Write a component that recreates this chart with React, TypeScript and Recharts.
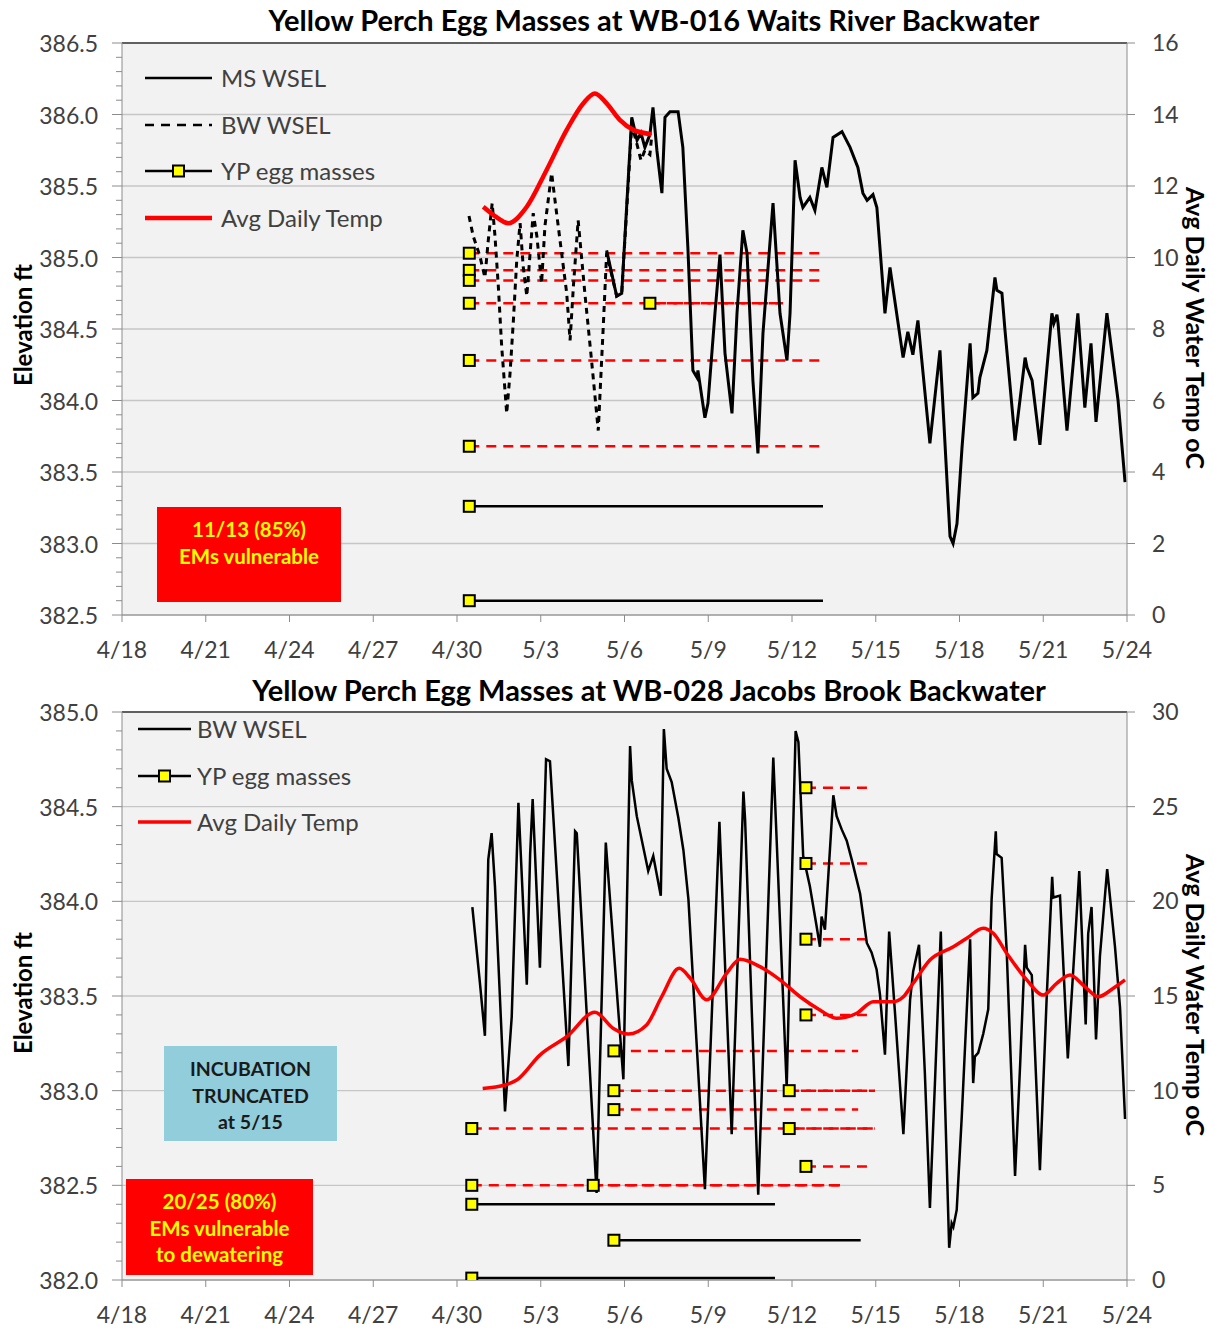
import React from 'react';
import { ComposedChart, Line, Scatter, XAxis, YAxis, CartesianGrid, ReferenceLine } from 'recharts';

const FONT = 'Lato, "Open Sans", sans-serif';
const TICK_COLOR = '#404040';
const AXIS_COLOR = '#8c8c8c';
const GRID_COLOR = '#c6c6c6';

// x values: days after 4/18 (0 = 4/18, 12 = 4/30, 13 = 5/1)
const dateTicks = [0, 3, 6, 9, 12, 15, 18, 21, 24, 27, 30, 33, 36];
const dateLabel = (d: number) => (d <= 12 ? `4/${18 + d}` : `5/${d - 12}`);

// ---------- WB-016 Waits River Backwater ----------
const elevMajor016 = [382.5, 383.0, 383.5, 384.0, 384.5, 385.0, 385.5, 386.0, 386.5];
const elevMinor016 = Array.from({ length: 41 }, (_, i) => Math.round((382.5 + i * 0.1) * 10) / 10);
const tempTicks016 = [0, 2, 4, 6, 8, 10, 12, 14, 16];

const msWsel016: [number, number][] = [
  [17.36, 385.05], [17.72, 384.73], [17.9, 384.75], [18.26, 385.98], [18.45, 385.82], [18.59, 385.87],
  [18.73, 385.77], [18.91, 385.86], [19.02, 386.05], [19.16, 385.75], [19.34, 385.45], [19.45, 385.98],
  [19.63, 386.02], [19.92, 386.02], [20.09, 385.77], [20.27, 385.07], [20.45, 384.21], [20.6, 384.16],
  [20.63, 384.21], [20.88, 383.88], [20.99, 383.98], [21.24, 384.61], [21.42, 385.02], [21.6, 384.33],
  [21.85, 383.91], [22.03, 384.61], [22.24, 385.19], [22.39, 385.03], [22.6, 384.14], [22.78, 383.63],
  [22.96, 384.47], [23.32, 385.38], [23.57, 384.61], [23.82, 384.28], [23.93, 384.61], [24.11, 385.68],
  [24.29, 385.42], [24.39, 385.35], [24.64, 385.42], [24.82, 385.33], [25.07, 385.63], [25.25, 385.49],
  [25.47, 385.84], [25.79, 385.88], [26.08, 385.77], [26.36, 385.63], [26.54, 385.45], [26.69, 385.4],
  [26.9, 385.44], [27.04, 385.35], [27.33, 384.61], [27.51, 384.93], [27.98, 384.3], [28.15, 384.48],
  [28.33, 384.32], [28.51, 384.56], [28.94, 383.7], [29.3, 384.35], [29.66, 383.05], [29.77, 383.0],
  [29.91, 383.14], [30.09, 383.67], [30.38, 384.4], [30.48, 384.02], [30.66, 384.05], [30.73, 384.16],
  [30.98, 384.35], [31.27, 384.86], [31.34, 384.77], [31.52, 384.75], [31.63, 384.49], [31.99, 383.72],
  [32.35, 384.3], [32.42, 384.23], [32.6, 384.14], [32.88, 383.69], [33.31, 384.61], [33.38, 384.54],
  [33.49, 384.6], [33.53, 384.54], [33.85, 383.79], [34.24, 384.61], [34.49, 383.95], [34.71, 384.4],
  [34.89, 383.85], [35.28, 384.61], [35.68, 384.0], [35.93, 383.43],
];

const bwWsel016: [number, number][] = [
  [12.43, 385.29], [12.58, 385.15], [12.82, 385.01], [13.0, 384.86], [13.12, 385.12], [13.26, 385.38],
  [13.36, 385.15], [13.48, 384.8], [13.6, 384.38], [13.78, 383.91], [13.9, 384.19], [14.02, 384.56],
  [14.14, 384.98], [14.26, 385.24], [14.37, 384.94], [14.5, 384.73], [14.73, 385.31], [14.86, 385.15],
  [15.03, 384.82], [15.15, 385.22], [15.39, 385.59], [15.51, 385.4], [15.69, 385.12], [15.93, 384.75],
  [16.05, 384.42], [16.17, 384.8], [16.34, 385.26], [16.58, 384.75], [16.82, 384.28], [17.06, 383.79],
  [17.24, 384.52], [17.36, 385.03], [17.72, 384.73], [17.9, 384.75], [18.26, 385.93], [18.45, 385.79],
  [18.59, 385.68], [18.73, 385.75], [18.91, 385.72], [18.98, 385.86],
];

const temp016: [number, number][] = [
  [12.94, 11.42], [13.36, 11.16], [13.84, 10.96], [14.5, 11.42], [15.21, 12.45], [15.93, 13.57],
  [16.52, 14.31], [16.94, 14.59], [17.36, 14.31], [17.83, 13.85], [18.32, 13.57], [18.97, 13.45],
];

const eggStart016 = [12.44, 12.44, 12.44, 12.44, 12.44, 12.44, 12.44, 12.44, 18.91];
const eggEnd016 = [25.0, 25.0, 25.0, 23.68, 25.0, 25.0, 25.11, 25.11, 23.68];
const eggElev016 = [385.03, 384.91, 384.84, 384.68, 384.28, 383.68, 383.26, 382.6, 384.68];
const eggVuln016 = [true, true, true, true, true, true, false, false, true];

// ---------- WB-028 Jacobs Brook Backwater ----------
const elevMajor028 = [382.0, 382.5, 383.0, 383.5, 384.0, 384.5, 385.0];
const elevMinor028 = Array.from({ length: 31 }, (_, i) => Math.round((382.0 + i * 0.1) * 10) / 10);
const tempTicks028 = [0, 5, 10, 15, 20, 25, 30];

const bwWsel028: [number, number][] = [
  [12.55, 383.97], [12.82, 383.57], [13.0, 383.29], [13.12, 384.22], [13.24, 384.36], [13.36, 384.08],
  [13.72, 382.89], [13.96, 383.39], [14.2, 384.52], [14.5, 383.56], [14.62, 384.25], [14.71, 384.54],
  [14.97, 383.65], [15.19, 384.75], [15.33, 384.74], [15.99, 383.13], [16.23, 384.37], [16.29, 384.36],
  [17.0, 382.46], [17.33, 384.31], [17.96, 383.06], [18.2, 384.82], [18.26, 384.64], [18.44, 384.45],
  [18.85, 384.16], [19.03, 384.24], [19.3, 384.03], [19.41, 384.91], [19.51, 384.7], [19.69, 384.63],
  [19.93, 384.44], [20.11, 384.27], [20.29, 384.01], [20.88, 382.48], [21.4, 384.42], [21.84, 382.77],
  [22.26, 384.58], [22.32, 384.43], [22.79, 382.45], [23.33, 384.76], [23.81, 383.02], [24.13, 384.9],
  [24.23, 384.84], [24.4, 384.24], [24.64, 384.08], [24.88, 383.87], [25.0, 383.76], [25.06, 383.92],
  [25.18, 383.85], [25.48, 384.56], [25.6, 384.45], [25.78, 384.38], [25.96, 384.32], [26.14, 384.22],
  [26.44, 384.04], [26.68, 383.78], [26.85, 383.73], [27.03, 383.64], [27.15, 383.51], [27.33, 383.19],
  [27.48, 383.84], [27.69, 383.41], [27.99, 382.77], [28.23, 383.48], [28.34, 383.63], [28.55, 383.77],
  [28.76, 383.09], [28.94, 382.38], [29.12, 383.04], [29.33, 383.84], [29.48, 382.95], [29.63, 382.17],
  [29.72, 382.3], [29.78, 382.28], [29.9, 382.37], [30.08, 382.86], [30.38, 383.8], [30.49, 383.04],
  [30.55, 383.18], [30.67, 383.2], [30.85, 383.3], [31.03, 383.43], [31.15, 384.01], [31.3, 384.37],
  [31.33, 384.25], [31.51, 384.23], [31.69, 383.74], [31.99, 382.55], [32.17, 383.13], [32.35, 383.77],
  [32.41, 383.65], [32.59, 383.61], [32.88, 382.58], [33.12, 383.48], [33.32, 384.13], [33.36, 384.02],
  [33.6, 384.03], [33.88, 383.17], [34.08, 383.65], [34.29, 384.16], [34.52, 383.35], [34.61, 383.83],
  [34.73, 383.97], [34.89, 383.27], [35.03, 383.71], [35.29, 384.17], [35.57, 383.76], [35.75, 383.44],
  [35.93, 382.85],
];

const temp028: [number, number][] = [
  [12.92, 10.12], [13.72, 10.3], [14.14, 10.56], [14.97, 11.88], [15.93, 12.85], [16.94, 14.14],
  [17.6, 13.29], [18.14, 12.99], [18.79, 13.47], [19.33, 14.96], [19.96, 16.46], [20.35, 15.95],
  [20.94, 14.8], [21.66, 16.2], [22.14, 16.94], [22.85, 16.55], [23.57, 15.85], [24.29, 14.96],
  [25.0, 14.26], [25.6, 13.82], [26.32, 14.09], [26.91, 14.7], [27.63, 14.7], [27.99, 14.96],
  [28.34, 15.67], [28.94, 16.9], [29.78, 17.6], [30.26, 18.05], [30.85, 18.58], [31.21, 18.31],
  [31.69, 17.26], [32.41, 15.85], [33.0, 15.05], [33.48, 15.67], [33.96, 16.11], [34.43, 15.58],
  [34.97, 14.96], [35.51, 15.41], [35.93, 15.85],
];

const eggStart028 = [12.53, 12.53, 12.53, 12.53, 17.62, 17.62, 17.62, 17.62, 16.88, 23.9, 23.9, 24.5, 24.5, 24.5, 24.5, 24.5];
const eggEnd028 = [26.97, 25.72, 23.39, 23.39, 26.46, 26.37, 26.97, 26.37, 25.72, 26.97, 26.97, 26.73, 26.73, 26.73, 26.73, 26.73];
const eggElev028 = [382.8, 382.5, 382.4, 382.01, 382.21, 383.21, 383.0, 382.9, 382.5, 383.0, 382.8, 382.6, 383.4, 384.6, 384.2, 383.8];
const eggVuln028 = [true, true, false, false, false, true, true, true, true, true, true, true, true, true, true, true];

// ---------- helpers ----------
const toPts = (arr: [number, number][]) => arr.map(([d, v]) => ({ d, v }));

const SquareMarker = (props: any) => {
  const { cx, cy } = props;
  if (cx == null || cy == null) return null;
  return <rect x={cx - 5.5} y={cy - 5.5} width={11} height={11} fill="#ffff00" stroke="#000" strokeWidth={2} />;
};

const ElevTick = (props: any) => {
  const { x, y, payload } = props;
  const v = payload.value as number;
  const isMajor = Math.abs(v * 2 - Math.round(v * 2)) < 1e-6;
  return (
    <g>
      <line x1={x - (isMajor ? 10 : 6)} x2={x} y1={y} y2={y} stroke={AXIS_COLOR} strokeWidth={1} />
      {isMajor && (
        <text x={x - 24} y={y} textAnchor="end" dominantBaseline="central" fontSize={23} fontFamily={FONT} fill={TICK_COLOR}>
          {v.toFixed(1)}
        </text>
      )}
    </g>
  );
};

type PanelProps = {
  height: number;
  marginTop: number;
  marginBottom: number;
  elevDomain: [number, number];
  elevMajor: number[];
  elevMinor: number[];
  tempDomain: [number, number];
  tempTicks: number[];
  solid: [number, number][] | null;
  dashed: [number, number][] | null;
  temp: [number, number][];
  tempWidth: number;
  wselWidth: number;
  eggStart: number[];
  eggEnd: number[];
  eggElev: number[];
  eggVuln: boolean[];
};

function Panel(p: PanelProps) {
  const eggIdx = p.eggStart.map((_, i) => i);
  const markers = eggIdx.map((i) => ({ d: p.eggStart[i], v: p.eggElev[i] }));
  return (
    <ComposedChart width={1215} height={p.height} margin={{ top: p.marginTop, right: 0, bottom: p.marginBottom, left: 0 }}>
      <CartesianGrid yAxisId="grid" vertical={false} stroke={GRID_COLOR} strokeWidth={1.3} fill="#f2f2f2" />
      <XAxis
        type="number"
        dataKey="d"
        domain={[0, 36]}
        ticks={dateTicks}
        tickFormatter={dateLabel}
        interval={0}
        allowDataOverflow
        height={40}
        tickSize={7}
        tickMargin={20}
        stroke={AXIS_COLOR}
        tick={{ fill: TICK_COLOR, fontSize: 23, fontFamily: FONT }}
      />
      <YAxis
        yAxisId="left"
        domain={p.elevDomain}
        ticks={p.elevMinor}
        interval={0}
        allowDataOverflow
        width={122}
        tickSize={0}
        tickMargin={0}
        tickLine={false}
        stroke={AXIS_COLOR}
        tick={<ElevTick />}
      />
      <YAxis
        yAxisId="right"
        orientation="right"
        domain={p.tempDomain}
        ticks={p.tempTicks}
        interval={0}
        allowDataOverflow
        width={88}
        tickSize={8}
        tickMargin={17}
        stroke={AXIS_COLOR}
        tick={{ fill: TICK_COLOR, fontSize: 23, fontFamily: FONT, textAnchor: 'start' }}
      />
      <YAxis yAxisId="grid" hide width={0} domain={p.elevDomain} ticks={p.elevMajor} interval={0} allowDataOverflow />
      <ReferenceLine yAxisId="left" y={p.elevDomain[1]} stroke="#3a3a3a" strokeWidth={1.5} />
      {eggIdx.map((i) => (
        <Line
          key={`egg-${i}`}
          yAxisId="left"
          data={[
            { d: p.eggStart[i], v: p.eggElev[i] },
            { d: p.eggEnd[i], v: p.eggElev[i] },
          ]}
          dataKey="v"
          type="linear"
          stroke={p.eggVuln[i] ? '#ff0000' : '#000000'}
          strokeWidth={2.5}
          strokeDasharray={p.eggVuln[i] ? '10 7' : undefined}
          dot={false}
          isAnimationActive={false}
        />
      ))}
      {p.dashed && (
        <Line
          yAxisId="left"
          data={toPts(p.dashed)}
          dataKey="v"
          type="linear"
          stroke="#000"
          strokeWidth={p.wselWidth}
          strokeDasharray="6 5"
          dot={false}
          isAnimationActive={false}
        />
      )}
      {p.solid && (
        <Line
          yAxisId="left"
          data={toPts(p.solid)}
          dataKey="v"
          type="linear"
          stroke="#000"
          strokeWidth={p.wselWidth}
          dot={false}
          isAnimationActive={false}
        />
      )}
      <Line
        yAxisId="right"
        data={toPts(p.temp)}
        dataKey="v"
        type="monotone"
        stroke="#ff0000"
        strokeWidth={p.tempWidth}
        dot={false}
        isAnimationActive={false}
      />
      <Scatter yAxisId="left" data={markers} dataKey="v" shape={SquareMarker} isAnimationActive={false} />
    </ComposedChart>
  );
}

type LegendItem = { y: number; kind: 'solid' | 'dashed' | 'marker' | 'temp'; label: string };

function LegendOverlay({ x1, x2, textX, items, tempWidth }: { x1: number; x2: number; textX: number; items: LegendItem[]; tempWidth: number }) {
  const w = x2 - x1;
  return (
    <>
      {items.map((it) => (
        <React.Fragment key={it.label}>
          <svg style={{ position: 'absolute', left: x1, top: it.y - 8 }} width={w} height={16}>
            {it.kind === 'temp' ? (
              <line x1={0} x2={w} y1={8} y2={8} stroke="#ff0000" strokeWidth={tempWidth} />
            ) : (
              <line x1={0} x2={w} y1={8} y2={8} stroke="#000" strokeWidth={2.5} strokeDasharray={it.kind === 'dashed' ? '9 7' : undefined} />
            )}
            {it.kind === 'marker' && <rect x={w / 2 - 5.5} y={2.5} width={11} height={11} fill="#ffff00" stroke="#000" strokeWidth={2} />}
          </svg>
          <div
            style={{
              position: 'absolute',
              left: textX,
              top: it.y,
              transform: 'translateY(-50%)',
              fontSize: 24,
              lineHeight: 1,
              color: TICK_COLOR,
              whiteSpace: 'nowrap',
              fontFamily: FONT,
            }}
          >
            {it.label}
          </div>
        </React.Fragment>
      ))}
    </>
  );
}

const rotLabel = (cx: number, cy: number, deg: number, size: number, text: string) => (
  <div
    style={{
      position: 'absolute',
      left: cx,
      top: cy,
      transform: `translate(-50%, -50%) rotate(${deg}deg)`,
      whiteSpace: 'nowrap',
      fontWeight: 700,
      fontSize: size,
      color: '#000',
      fontFamily: FONT,
    }}
  >
    {text}
  </div>
);

const textBox = (left: number, top: number, width: number, height: number, bg: string, color: string, lines: string[], padTop: number, size: number) => (
  <div
    style={{
      position: 'absolute',
      left,
      top,
      width,
      height,
      background: bg,
      color,
      fontWeight: 700,
      fontSize: size,
      lineHeight: '26.5px',
      textAlign: 'center',
      paddingTop: padTop,
      boxSizing: 'border-box',
      fontFamily: FONT,
    }}
  >
    {lines.map((l) => (
      <div key={l}>{l}</div>
    ))}
  </div>
);

const title = (cx: number, cy: number, text: string) => (
  <div
    style={{
      position: 'absolute',
      left: cx,
      top: cy,
      transform: 'translate(-50%, -50%)',
      whiteSpace: 'nowrap',
      fontWeight: 700,
      fontSize: 29,
      color: '#000',
      fontFamily: FONT,
    }}
  >
    {text}
  </div>
);

export default function App() {
  return (
    <div style={{ position: 'absolute', left: 0, top: 0, width: 1215, height: 1329, background: '#fff', fontFamily: FONT, overflow: 'hidden' }}>
      <div style={{ position: 'absolute', left: 0, top: 0 }}>
        <Panel
          height={665}
          marginTop={43}
          marginBottom={10}
          elevDomain={[382.5, 386.5]}
          elevMajor={elevMajor016}
          elevMinor={elevMinor016}
          tempDomain={[0, 16]}
          tempTicks={tempTicks016}
          solid={msWsel016}
          dashed={bwWsel016}
          temp={temp016}
          tempWidth={4.5}
          wselWidth={3}
          eggStart={eggStart016}
          eggEnd={eggEnd016}
          eggElev={eggElev016}
          eggVuln={eggVuln016}
        />
      </div>
      <div style={{ position: 'absolute', left: 0, top: 665 }}>
        <Panel
          height={664}
          marginTop={47}
          marginBottom={9}
          elevDomain={[382.0, 385.0]}
          elevMajor={elevMajor028}
          elevMinor={elevMinor028}
          tempDomain={[0, 30]}
          tempTicks={tempTicks028}
          solid={bwWsel028}
          dashed={null}
          temp={temp028}
          tempWidth={3.5}
          wselWidth={2.5}
          eggStart={eggStart028}
          eggEnd={eggEnd028}
          eggElev={eggElev028}
          eggVuln={eggVuln028}
        />
      </div>

      {title(654, 19, 'Yellow Perch Egg Masses at WB-016 Waits River Backwater')}
      {title(649, 689, 'Yellow Perch Egg Masses at WB-028 Jacobs Brook Backwater')}

      {rotLabel(22, 325, -90, 24, 'Elevation ft')}
      {rotLabel(1196, 328, 90, 25, 'Avg Daily Water Temp oC')}
      {rotLabel(22, 993, -90, 24, 'Elevation ft')}
      {rotLabel(1196, 995, 90, 25, 'Avg Daily Water Temp oC')}

      <LegendOverlay
        x1={145}
        x2={212}
        textX={221}
        tempWidth={4.5}
        items={[
          { y: 78, kind: 'solid', label: 'MS WSEL' },
          { y: 125, kind: 'dashed', label: 'BW WSEL' },
          { y: 171, kind: 'marker', label: 'YP egg masses' },
          { y: 218, kind: 'temp', label: 'Avg Daily Temp' },
        ]}
      />
      <LegendOverlay
        x1={138}
        x2={191}
        textX={197}
        tempWidth={3.5}
        items={[
          { y: 729, kind: 'solid', label: 'BW WSEL' },
          { y: 776, kind: 'marker', label: 'YP egg masses' },
          { y: 822, kind: 'temp', label: 'Avg Daily Temp' },
        ]}
      />

      {textBox(157, 507, 184, 95, '#ff0000', '#ffff00', ['11/13 (85%)', 'EMs vulnerable'], 9, 20.5)}
      {textBox(164, 1046, 173, 95, '#92cddc', '#1a1a1a', ['INCUBATION', 'TRUNCATED', 'at 5/15'], 10, 19.5)}
      {textBox(126, 1179, 187, 96, '#ff0000', '#ffff00', ['20/25 (80%)', 'EMs vulnerable', 'to dewatering'], 9, 20.5)}
    </div>
  );
}
